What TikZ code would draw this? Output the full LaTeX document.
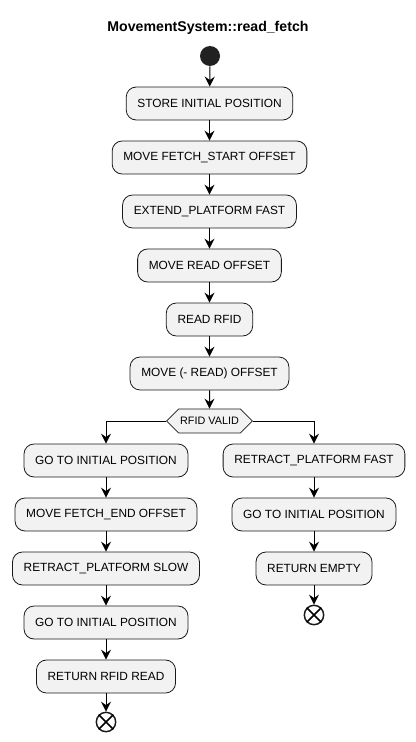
\documentclass[tikz,border=0pt]{standalone}
\usepackage{fontspec}
\setmainfont{Liberation Sans}
\usetikzlibrary{arrows.meta, shapes.symbols}

\begin{document}
\begin{tikzpicture}[x=0.75pt, y=-0.75pt,
	act/.style={draw=black!90, fill=black!5, line width=0.6pt, rounded corners=7.5pt, minimum height=24.75pt, inner xsep=8.4pt, font=\fontsize{8.9}{11}\selectfont},
	cond/.style={draw=black!90, fill=black!5, line width=0.6pt, signal, signal to=west and east, minimum height=18pt, inner xsep=1.2pt, font=\fontsize{8.1}{10}\selectfont},
	startdot/.style={circle, fill=black!87, minimum size=15pt, inner sep=0pt},
	stopdot/.style={circle, draw=black!90, line width=1.1pt, minimum size=14.5pt, inner sep=0pt},
	flow/.style={line width=0.75pt, -{Stealth[length=7.5pt, width=7.5pt, inset=2.6pt]}}]
	\useasboundingbox (0,0) rectangle (416,742);
	\node[font=\fontsize{10.6}{12}\selectfont\bfseries] (title) at (208,28) {MovementSystem::read\_fetch};
	\node[startdot] (start) at (210,56) {};
	\node[act] (store) at (209.5,103.5) {STORE INITIAL POSITION};
	\node[act] (fetchstart) at (209.5,157.5) {MOVE FETCH\_START OFFSET};
	\node[act] (extend) at (209.5,211.5) {EXTEND\_PLATFORM FAST};
	\node[act] (readoff) at (209.5,265.5) {MOVE READ OFFSET};
	\node[act] (readrfid) at (209.5,319.5) {READ RFID};
	\node[act] (back) at (209.5,373.5) {MOVE (- READ) OFFSET};
	\node[cond] (valid) at (209.5,421) {RFID VALID};
	% left branch
	\node[act] (goinit) at (106,460.5) {GO TO INITIAL POSITION};
	\node[act] (fetchend) at (106,514.5) {MOVE FETCH\_END OFFSET};
	\node[act] (retractslow) at (106,568.5) {RETRACT\_PLATFORM SLOW};
	\node[act] (goinitb) at (106,622.5) {GO TO INITIAL POSITION};
	\node[act] (retread) at (106,676.5) {RETURN RFID READ};
	\node[stopdot] (endl) at (106,722) {};
	% right branch
	\node[act] (retractfast) at (314,460.5) {RETRACT\_PLATFORM FAST};
	\node[act] (goinitc) at (314,514.5) {GO TO INITIAL POSITION};
	\node[act] (retempty) at (314,568.5) {RETURN EMPTY};
	\node[stopdot] (endr) at (314,615) {};
	\foreach \e in {endl,endr}
		\draw[line width=1.1pt] (\e.north west) -- (\e.south east) (\e.north east) -- (\e.south west);
	\foreach \a/\b in {start/store, store/fetchstart, fetchstart/extend, extend/readoff, readoff/readrfid, readrfid/back, back/valid, goinit/fetchend, fetchend/retractslow, retractslow/goinitb, goinitb/retread, retread/endl, retractfast/goinitc, goinitc/retempty, retempty/endr}
		\draw[flow] (\a) -- (\b);
	\draw[flow] (valid.west) -| (goinit.north);
	\draw[flow] (valid.east) -| (retractfast.north);
\end{tikzpicture}
\end{document}
